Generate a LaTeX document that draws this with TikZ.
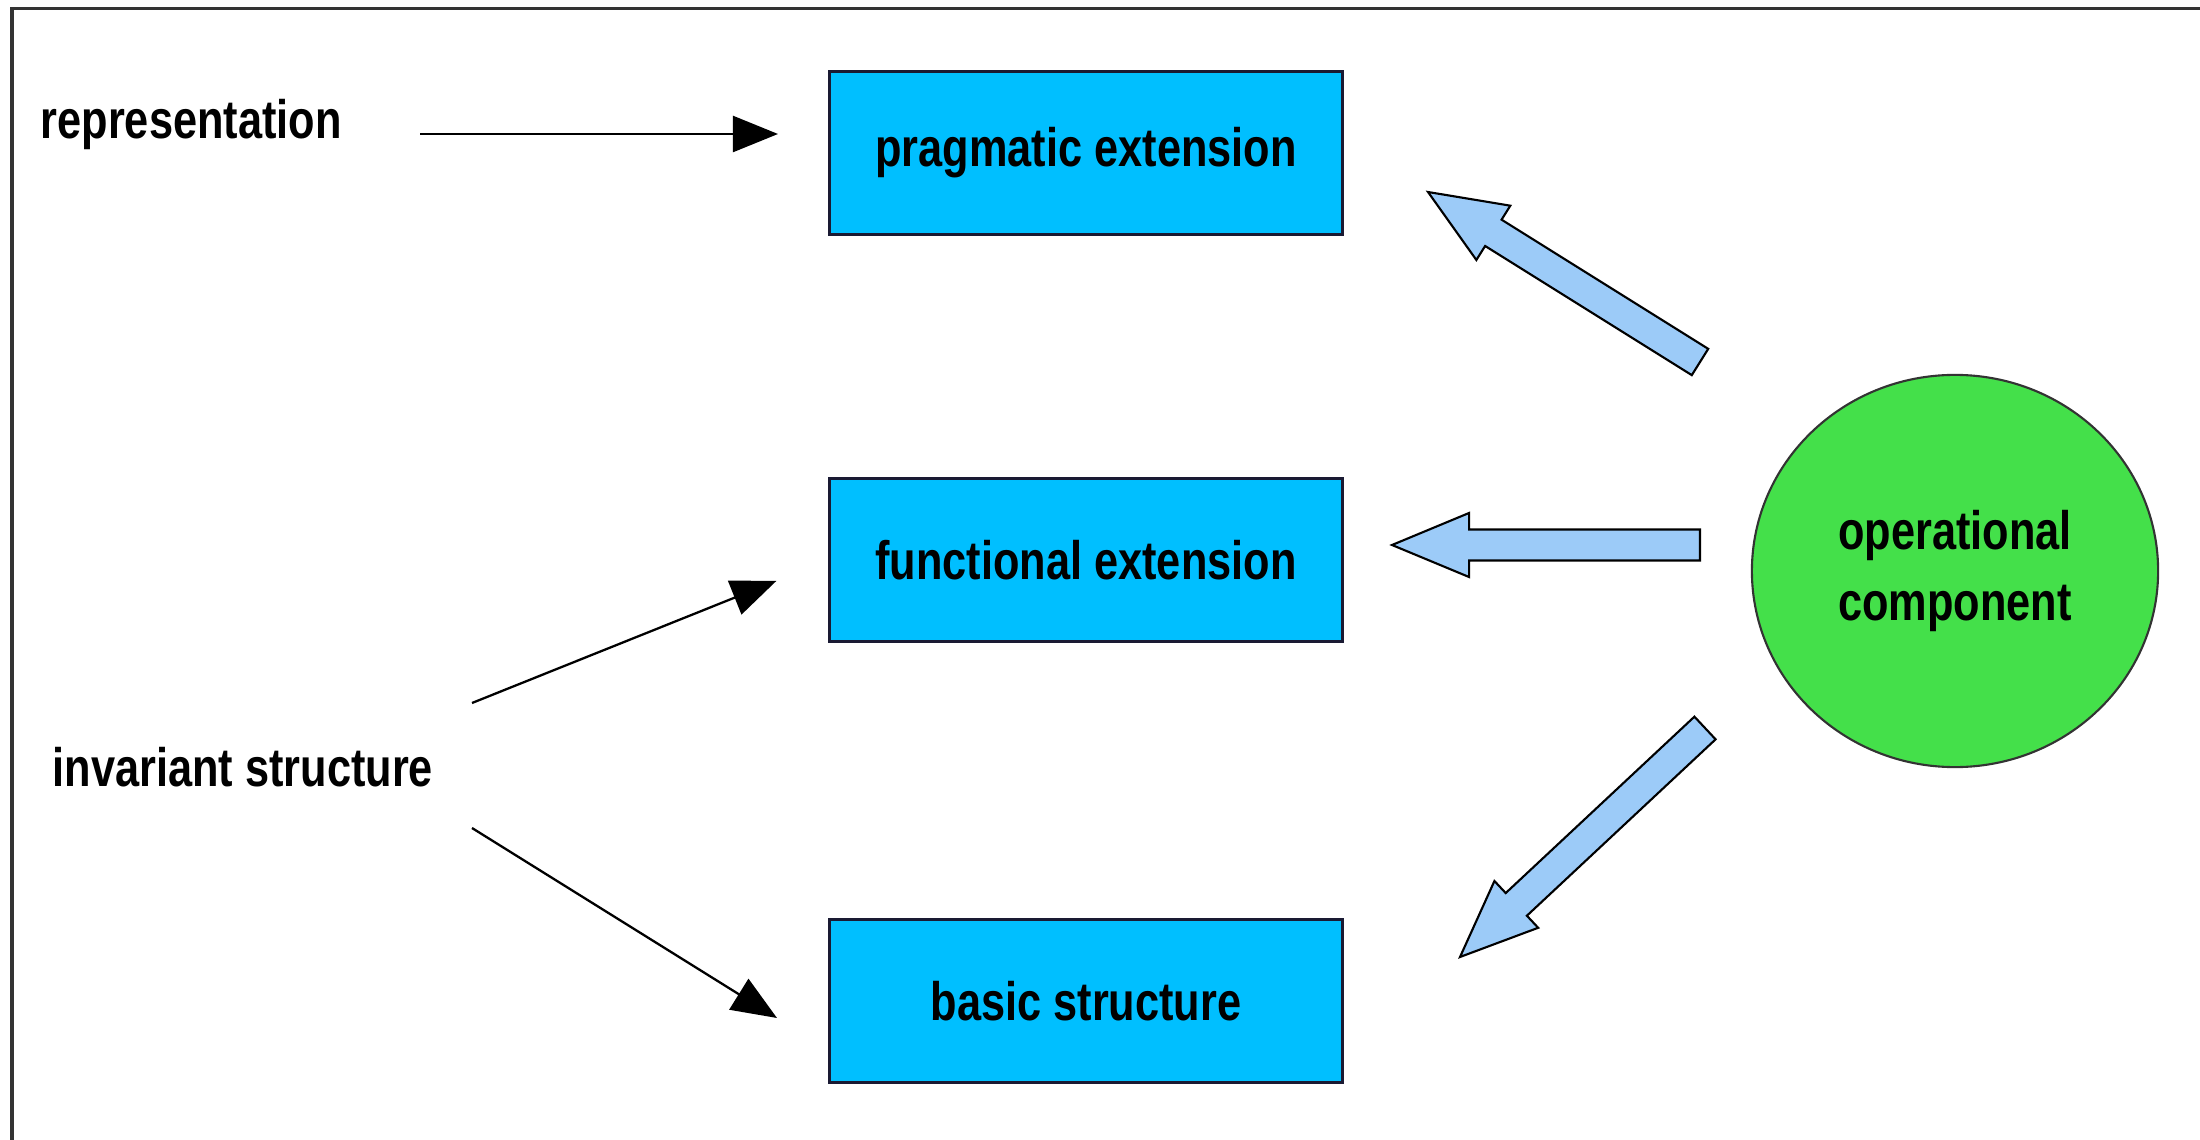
\documentclass[tikz,border=0pt]{standalone}
\usepackage{fontspec}
\setmainfont[FakeStretch=0.8]{Liberation Sans}
\usepackage{tikz}
\usetikzlibrary{arrows.meta,calc,shapes.geometric}
\definecolor{boxblue}{HTML}{00BFFF}
\definecolor{boxedge}{HTML}{1A1A33}
\definecolor{opgreen}{HTML}{44E04A}
\definecolor{fatblue}{HTML}{9CCBF8}

\begin{document}
\begin{tikzpicture}[
    x=0.01cm, y=-0.01cm,
    every node/.style={font=\fontsize{15.4}{20}\selectfont\bfseries},
    layerbox/.style={rectangle, draw=boxedge, fill=boxblue, line width=0.8pt,
        minimum width=5.12cm, minimum height=1.63cm, inner sep=0pt},
    opcircle/.style={ellipse, draw=black!80, fill=opgreen, line width=0.6pt,
        minimum width=4.06cm, minimum height=3.92cm, inner sep=0pt, align=center},
    plainlabel/.style={anchor=west, inner sep=0pt},
    thinarrow/.style={-{Triangle[length=0.45cm,width=0.36cm]}, line width=0.65pt},
    fatarrow/.style={draw=black, fill=fatblue, line width=0.6pt, line join=miter}
]
    % Page and frame
    \useasboundingbox (0,0) rectangle (2200,1140);
    \draw[black!80, line width=0.03cm] (12,1160) -- (12,9) -- (2220,9);

    % Layers
    \node[layerbox] (prag) at (1086,153) {pragmatic extension};
    \node[layerbox] (func) at (1086,560) {functional extension};
    \node[layerbox] (basic) at (1086,1001) {basic structure};

    % Operational component
    \node[opcircle] (oper) at (1955,571) {operational\\component};

    % Labels
    \node[plainlabel] (repr) at (40,125) {representation};
    \node[plainlabel] (inv) at (52,767) {invariant structure};

    % Free ends of the arrows
    \coordinate (repfrom) at (420,134);
    \coordinate (repto) at (778,134);
    \coordinate (invup) at (472,703);
    \coordinate (invdown) at (472,828);
    \coordinate (invdownto) at (777,1018);
    \coordinate (optop) at (1700,362);
    \coordinate (pragtip) at (1428,192);
    \coordinate (opmid) at (1700,545);
    \coordinate (functip) at (1392,545);
    \coordinate (opbot) at (1705,728);
    \coordinate (basictip) at (1460,957);

    % Thin arrows
    \draw[thinarrow] (repfrom) -- (repto);
    \draw[thinarrow, shorten >=0.56cm] (invup) -- (func.west);
    \draw[thinarrow] (invdown) -- (invdownto);

    % Block arrows from the operational component
    \foreach \s/\t in {optop/pragtip, opmid/functip, opbot/basictip} {
        \coordinate (neck) at ($(\t)!0.77cm!(\s)$);
        \draw[fatarrow] ($(\s)!0.155cm!90:(\t)$) -- ($(neck)!0.155cm!90:(\t)$)
            -- ($(neck)!0.32cm!90:(\t)$) -- (\t) -- ($(neck)!0.32cm!-90:(\t)$)
            -- ($(neck)!0.155cm!-90:(\t)$) -- ($(\s)!0.155cm!-90:(\t)$) -- cycle;
    }
\end{tikzpicture}
\end{document}
